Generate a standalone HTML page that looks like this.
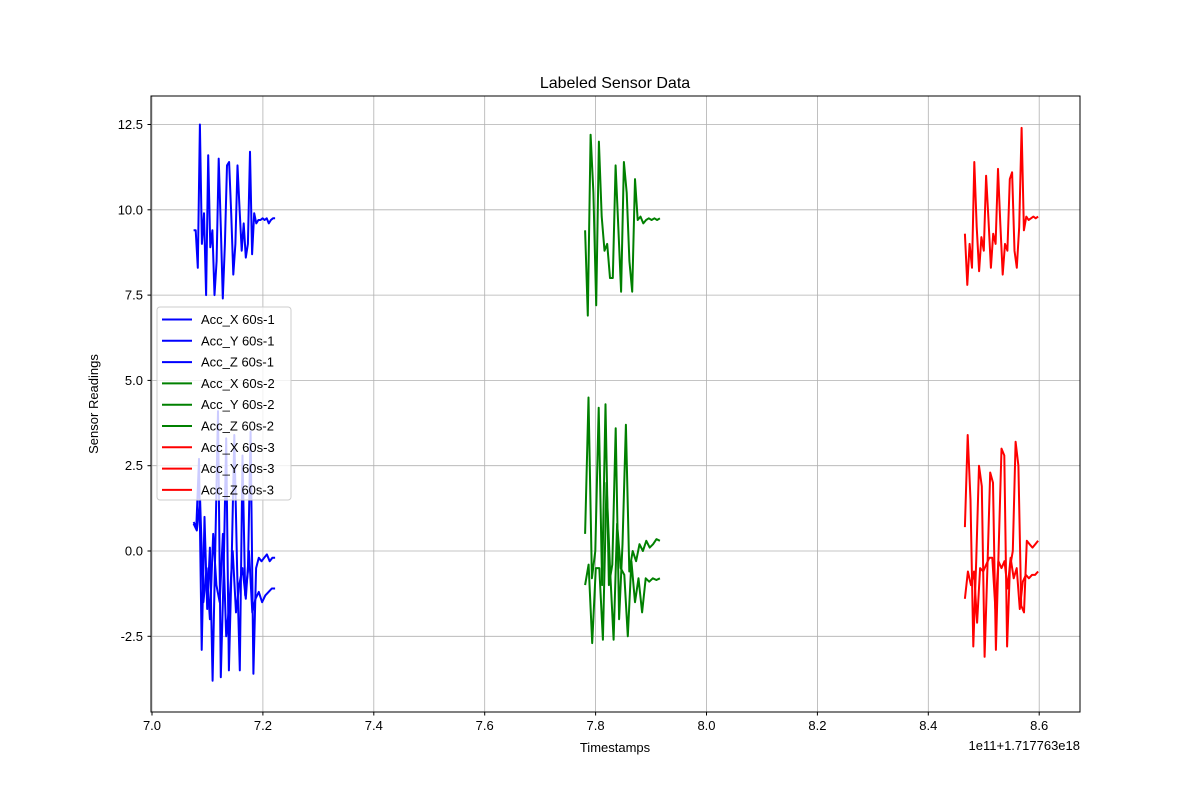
<!DOCTYPE html>
<html><head><meta charset="utf-8"><style>
body{margin:0;background:#fff;font-family:"Liberation Sans","DejaVu Sans",sans-serif}
</style></head><body>
<svg id="chart" width="1200" height="800" xmlns="http://www.w3.org/2000/svg" font-family="Liberation Sans, DejaVu Sans, sans-serif">
<rect width="1200" height="800" fill="#fff"/>
<g id="grid"></g>
<g id="series"></g>
<rect x="151" y="96" width="929" height="616" fill="none" stroke="#000" stroke-width="1"/>
<g id="ticks"></g>
<text x="615" y="88" font-size="16" text-anchor="middle">Labeled Sensor Data</text>
<text x="615" y="752" font-size="13" text-anchor="middle">Timestamps</text>
<text x="1080" y="750" font-size="13" text-anchor="end">1e11+1.717763e18</text>
<text transform="translate(98,404) rotate(-90)" font-size="13" text-anchor="middle">Sensor Readings</text>
<g id="legend"></g>
</svg>
<script>
const xTicks=[7.0,7.2,7.4,7.6,7.8,8.0,8.2,8.4,8.6];
const yTicks=[-2.5,0,2.5,5,7.5,10,12.5];
const groupColors=["blue","green","red"];
const groupStart=[7.075,7.781,8.466];
const groupEnd=[7.222,7.916,8.598];
const g1X=[0.8,0.6,1.5,-1.5,-0.5,-2,0.5,-1.0,-1.5,0.5,-2.5,-1.5,0,-1.8,-1.0,-0.5,-1.4,0,-1.8,-1.4,-1.2,-1.5,-1.3,-1.2,-1.1,-1.1];
const g1Y=[0.85,0.7,2.7,-2.9,1.0,-1.7,0.1,-3.8,0.1,4.1,-3.7,-0.8,3.3,-3.5,-0.4,3.4,-0.5,-3.5,2.8,-1.3,-0.6,3.5,-3.6,-0.5,-0.2,-0.3,-0.2,-0.1,-0.3,-0.2,-0.2];
const g1Z=[9.4,9.4,8.3,12.5,9.0,9.9,7.5,11.6,8.9,9.4,7.5,8.5,11.5,9.5,7.4,9.0,11.3,11.4,9.9,8.1,9.0,11.3,10.0,8.8,9.6,8.6,9.0,11.7,8.7,9.9,9.6,9.7,9.7,9.75,9.7,9.75,9.6,9.7,9.75,9.75];
const g2X=[-1.0,-0.4,-2.7,-0.5,-0.5,-2.6,2.0,-0.5,-2.6,0.8,-0.5,-0.7,-2.5,-0.3,-1.5,-0.8,-1.8,-0.8,-0.9,-0.8,-0.85,-0.8];
const g2Y=[0.5,4.5,-0.8,0.0,4.2,-1.0,4.3,-1.0,-0.4,3.6,-2.0,0.2,3.7,-0.6,0.0,-0.3,0.2,0.0,0.3,0.1,0.2,0.35,0.3];
const g2Z=[9.4,6.9,12.2,10.5,7.2,12.0,9.8,8.8,9.0,8.0,8.0,11.3,9.5,7.6,11.4,10.5,8.5,7.6,10.9,9.7,9.8,9.6,9.7,9.75,9.7,9.75,9.7,9.75];
const g3X=[-1.4,-0.6,-1.0,-0.6,-2.1,-0.5,-0.6,-0.4,-0.2,-0.2,-1.7,-0.3,-0.5,-0.3,-1.1,-0.2,-0.8,-0.5,-1.7,-0.9,-0.7,-0.8,-0.7,-0.7,-0.6];
const g3Y=[0.7,3.4,1.5,-2.8,-0.3,2.5,1.9,-3.1,-0.5,2.3,2.0,-2.9,0.1,3.0,2.8,-2.8,-0.5,0.0,3.2,2.5,-1.6,-1.8,0.3,0.2,0.1,0.2,0.3];
const g3Z=[9.3,7.8,9.0,8.3,11.4,9.5,8.2,9.2,8.8,11.0,9.7,8.3,9.3,9.0,11.2,9.6,8.1,9.0,8.8,10.9,11.1,8.8,8.3,9.5,12.4,9.4,9.8,9.7,9.75,9.8,9.75,9.8];
const groups=[[g1X,g1Y,g1Z],[g2X,g2Y,g2Z],[g3X,g3Y,g3Z]];
const axisNames=["Acc_X","Acc_Y","Acc_Z"];
const NS="http://www.w3.org/2000/svg";
const xs=t=>152+(t-7.0)/0.2*110.9;
const ys=v=>551-v/2.5*85.3;
function mk(tag,attrs,parent){const e=document.createElementNS(NS,tag);for(const k in attrs)e.setAttribute(k,attrs[k]);parent.appendChild(e);return e;}
const grid=document.getElementById('grid'),ticks=document.getElementById('ticks');
xTicks.forEach(t=>{const x=xs(t);
 const l=mk('line',{x1:x,x2:x,y1:96,y2:712,stroke:'#b0b0b0','stroke-width':0.8},grid);
 
 
 mk('line',{x1:x,x2:x,y1:712,y2:715.5,stroke:'#000'},ticks);
 const tx=mk('text',{x:x,y:730,'font-size':13,'text-anchor':'middle'},ticks);tx.textContent=t.toFixed(1);
 
 });
yTicks.forEach(v=>{const y=ys(v);
 const l=mk('line',{x1:151,x2:1080,y1:y,y2:y,stroke:'#b0b0b0','stroke-width':0.8},grid);
 
 
 mk('line',{x1:147.5,x2:151,y1:y,y2:y,stroke:'#000'},ticks);
 const tx=mk('text',{x:143,y:y+4.5,'font-size':13,'text-anchor':'end'},ticks);tx.textContent=v.toFixed(1);
 
 });
const ser=document.getElementById('series');
groups.forEach((g,gi)=>{g.forEach((vals,ai)=>{
 const n=vals.length;const pts=vals.map((v,i)=>{const t=groupStart[gi]+(groupEnd[gi]-groupStart[gi])*i/(n-1);return xs(t).toFixed(1)+','+ys(v).toFixed(1);}).join(' ');
 const p=mk('polyline',{points:pts,fill:'none',stroke:groupColors[gi],'stroke-width':2,'stroke-linejoin':'round'},ser);
 
 });});
const lg=document.getElementById('legend');
const box=mk('rect',{x:157,y:307,width:134,height:193,rx:3,fill:'#fff','fill-opacity':0.8,stroke:'#ccc'},lg);


let k=0;
groupColors.forEach((c,gi)=>axisNames.forEach(a=>{const y=319.5+k*21.3;
 mk('line',{x1:162,x2:192,y1:y,y2:y,stroke:c,'stroke-width':2},lg);
 const t=mk('text',{x:201,y:y+4.5,'font-size':13},lg);t.textContent=a+' 60s-'+(gi+1);
 
 k++;}));
</script>
</body></html>
